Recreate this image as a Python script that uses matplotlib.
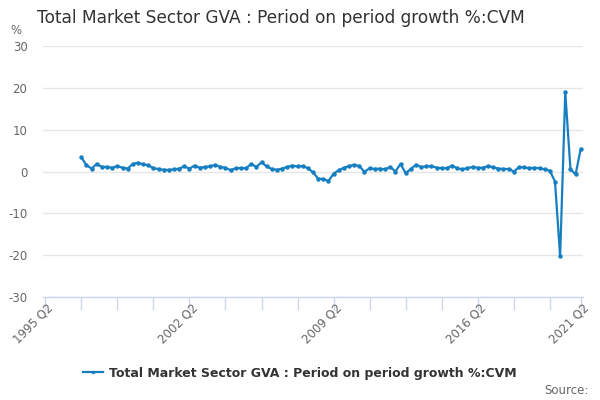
import matplotlib
matplotlib.use("Agg")
import matplotlib.pyplot as plt
from matplotlib.lines import Line2D

title = "Total Market Sector GVA : Period on period growth %:CVM"
series_name = "Total Market Sector GVA : Period on period growth %:CVM"

# axis range of categories: 1995 Q2 .. 2021 Q2
axis_start_year, axis_start_q = 1995, 2
axis_end_year, axis_end_q = 2021, 2
# data start: 1997 Q1
data_start_year, data_start_q = 1997, 1

growth = [
    3.4, 1.5, 0.7, 1.8,      # 1997
    1.1, 1.1, 0.9, 1.3,      # 1998
    0.9, 0.7, 1.8, 2.1,      # 1999
    1.7, 1.5, 0.8, 0.6,      # 2000
    0.4, 0.4, 0.5, 0.7,      # 2001
    1.2, 0.7, 1.4, 0.9,      # 2002
    1.1, 1.2, 1.6, 1.1,      # 2003
    0.9, 0.3, 0.8, 0.8,      # 2004
    0.8, 1.8, 1.1, 2.2,      # 2005
    1.2, 0.6, 0.4, 0.7,      # 2006
    1.1, 1.4, 1.2, 1.3,      # 2007
    0.8, -0.2, -1.7, -1.8,   # 2008
    -2.3, -0.5, 0.3, 0.9,    # 2009
    1.3, 1.6, 1.3, -0.1,     # 2010
    0.8, 0.6, 0.7, 0.5,      # 2011
    1.1, 0.0, 1.8, -0.4,     # 2012
    0.6, 1.6, 1.1, 1.2,      # 2013
    1.3, 0.9, 0.8, 0.8,      # 2014
    1.4, 0.8, 0.5, 0.8,      # 2015
    1.1, 0.9, 0.9, 1.3,      # 2016
    1.0, 0.7, 0.6, 0.6,      # 2017
    0.0, 1.0, 1.0, 0.8,      # 2018
    0.9, 0.8, 0.5, 0.2,      # 2019
    -2.4, -20.3, 18.9, 0.6,  # 2020
    -0.7, 5.4,               # 2021
]

y_ticks = [-30, -20, -10, 0, 10, 20, 30]
x_label_quarters = ["1995 Q2", "2002 Q2", "2009 Q2", "2016 Q2", "2021 Q2"]


def qidx(y, q):
    return (y - axis_start_year) * 4 + (q - axis_start_q)


def parse(lbl):
    y, q = lbl.split(" Q")
    return qidx(int(y), int(q))


n_axis = qidx(axis_end_year, axis_end_q)
start = qidx(data_start_year, data_start_q)
xs = [start + i for i in range(len(growth))]

fig = plt.figure(figsize=(6, 4), dpi=100)
ax = fig.add_axes([42.7 / 600, 1 - 297 / 400, (583.3 - 42.7) / 600, (297 - 46) / 400])

line_color = "#167fc2"
ax.plot(xs, growth, color=line_color, lw=1.6, marker="o", ms=3.2,
        markeredgewidth=0, zorder=3, solid_joinstyle="round")

ax.set_xlim(-0.5, n_axis + 0.5)
ax.set_ylim(-30, 30)
ax.set_yticks(y_ticks)
ax.set_yticklabels([str(v) for v in y_ticks], color="#666666", fontsize=8.5)
ax.yaxis.grid(True, color="#e6e6e6", lw=1)
ax.set_axisbelow(True)
ax.tick_params(axis="y", length=0, pad=11)

# x ticks every 7 quarters + final
tick_pos = list(range(0, n_axis, 7)) + [n_axis]
ax.set_xticks(tick_pos)
ax.set_xticklabels([""] * len(tick_pos))
ax.tick_params(axis="x", length=9, color="#ccd6eb", width=1, direction="out")

for lbl in x_label_quarters:
    p = parse(lbl)
    ax.text(p + 0.3, -31.0, lbl, rotation=45, ha="right", va="top",
            rotation_mode="anchor", color="#666666", fontsize=8.5,
            transform=ax.transData, clip_on=False)

for s in ["top", "right", "left"]:
    ax.spines[s].set_visible(False)
ax.spines["bottom"].set_color("#ccd6eb")
ax.spines["bottom"].set_linewidth(1)

fig.text(37 / 600, 1 - 18 / 400, title, fontsize=12.25, color="#333333",
         ha="left", va="center")
fig.text(10 / 600, 1 - 31 / 400, "%", fontsize=8.5, color="#666666",
         ha="left", va="center")

handle = Line2D([0], [0], color=line_color, lw=1.6, marker="o", ms=2.5,
                markeredgewidth=0)
fig.legend([handle], [series_name], loc="center", bbox_to_anchor=(300 / 600, 1 - 373 / 400),
           frameon=False, prop={"weight": "bold", "size": 9}, labelcolor="#333333",
           handlelength=1.6, handletextpad=0.5)

fig.text(589 / 600, 1 - 390 / 400, "Source:", fontsize=8.5, color="#666666",
         ha="right", va="center")

fig.savefig("out.png", dpi=100)
